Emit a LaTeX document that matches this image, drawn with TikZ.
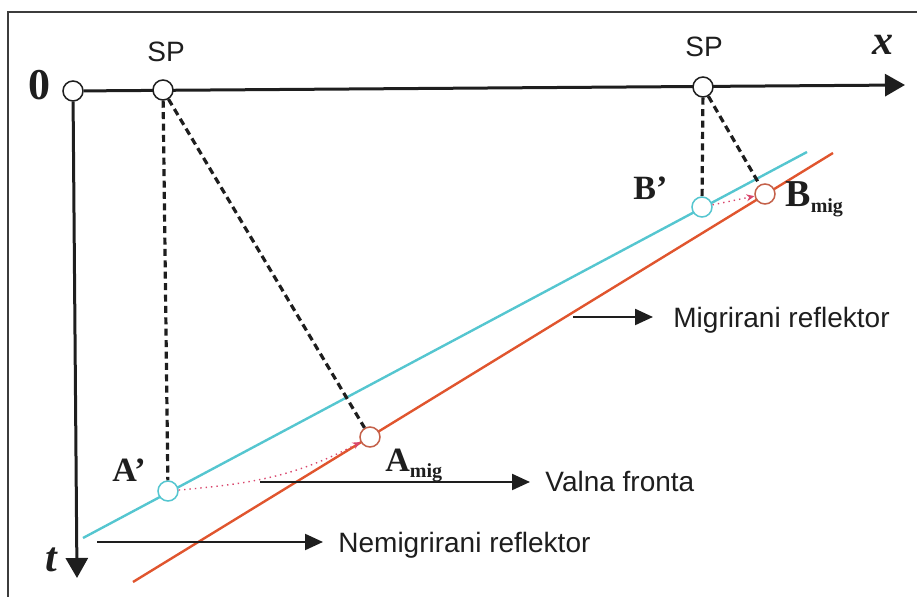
\documentclass[tikz,border=0pt]{standalone}
\usepackage{fontspec}
\setmainfont{Liberation Serif}
\setsansfont{Liberation Sans}
\usepackage{xcolor}
\definecolor{wave}{HTML}{55C6D0}
\definecolor{refl}{HTML}{E0552E}
\definecolor{rcirc}{HTML}{C4614A}
\definecolor{migr}{HTML}{D9466C}
\definecolor{ink}{HTML}{1E1E1E}
\definecolor{frm}{HTML}{3C3C3C}
\usetikzlibrary{arrows.meta,positioning,calc,backgrounds}
\newcommand\subm[1]{\raisebox{-3pt}{\fontsize{10}{11}\selectfont #1}}
\tikzset{
  pt/.style={circle,draw=ink,fill=white,line width=0.75pt,minimum size=10pt,inner sep=0pt},
  wpt/.style={pt,draw=wave},
  rpt/.style={pt,draw=rcirc},
  axis/.style={draw=ink,line width=1.5pt,-{Triangle[length=10pt,width=11pt]}},
  lblarr/.style={draw=ink,line width=1.1pt,-{Triangle[length=9pt,width=8pt]}},
  dsh/.style={draw=ink,line width=1.6pt,dash pattern=on 3.5pt off 2.2pt},
  mgarr/.style={draw=migr,line width=0.7pt,dotted,-{Stealth[length=4pt,width=3.5pt]}},
  lbl/.style={font=\sffamily\fontsize{14}{16}\selectfont,inner sep=0pt,anchor=west,text=ink},
  plbl/.style={font=\bfseries\fontsize{17}{19}\selectfont,inner sep=0pt,anchor=base west,text=ink},
}
\begin{document}
\begin{tikzpicture}[x=0.5pt,y=-0.5pt]
\useasboundingbox (0,0) rectangle (917,597);
\draw[frm,line width=0.8pt] (8,597) |- (917,12);
\node[pt] (O) at (73,91) {};
\node[pt] (sp1) at (163,90) {};
\node[pt] (sp2) at (703,87) {};
\node[wpt] (a1) at (168,491) {};
\node[rpt] (am) at (370,437) {};
\node[wpt] (b1) at (702,207) {};
\node[rpt] (bm) at (765,194) {};
\coordinate (xtip) at (905,85);
\coordinate (ttip) at (77,578);
\coordinate (w0) at (83,538);
\coordinate (w1) at (807,152);
\coordinate (r0) at (133,582);
\coordinate (r1) at (833,153);
\begin{scope}[on background layer]
\draw[wave,line width=1.2pt] (w0) -- (w1);
\draw[refl,line width=1.2pt] (r0) -- (r1);
\draw[axis] (O) -- (xtip);
\draw[axis] (O) -- (ttip);
\end{scope}
\node[plbl,font=\bfseries\fontsize{22}{24}\selectfont] (zero) at (28,100) {0};
\node[plbl,font=\bfseries\itshape\fontsize{21}{23}\selectfont] (xl) at (872,55) {x};
\node[plbl,font=\bfseries\itshape\fontsize{21}{23}\selectfont] (tl) at (45,572) {t};
\node[plbl,font=\sffamily\fontsize{14}{16}\selectfont] (sp1l) at (147,62) {SP};
\node[plbl,font=\sffamily\fontsize{14}{16}\selectfont] (sp2l) at (685,57) {SP};
\node[plbl] (a1l) at (112,482) {A’};
\node[plbl] (aml) at (385,472) {A\subm{mig}};
\node[plbl] (b1l) at (633,200) {B’};
\node[plbl,font=\bfseries\fontsize{19}{21}\selectfont] (bml) at (785,207) {B\subm{mig}};
\draw[dsh] (sp1) -- (a1);
\draw[dsh] (sp1) -- (am);
\draw[dsh] (sp2) -- (b1);
\draw[dsh] (sp2) -- (bm);
\draw[mgarr] (a1) to[out=5,in=208] (am);
\draw[mgarr] (b1) -- (bm);
\node[lbl] (vf) at (545,481) {Valna fronta};
\node[lbl] (nr) at (338,545) {Nemigrirani reflektor};
\node[lbl] (mr) at (673,320) {Migrirani reflektor};
\coordinate (vfs) at (260,482);
\coordinate (nrs) at (97,542);
\coordinate (mrs) at (573,317);
\draw[lblarr,shorten >=7.5pt] (vfs) -- (vfs -| vf.west);
\draw[lblarr,shorten >=7.5pt] (nrs) -- (nrs -| nr.west);
\draw[lblarr,shorten >=10pt] (mrs) -- (mrs -| mr.west);
\end{tikzpicture}
\end{document}
